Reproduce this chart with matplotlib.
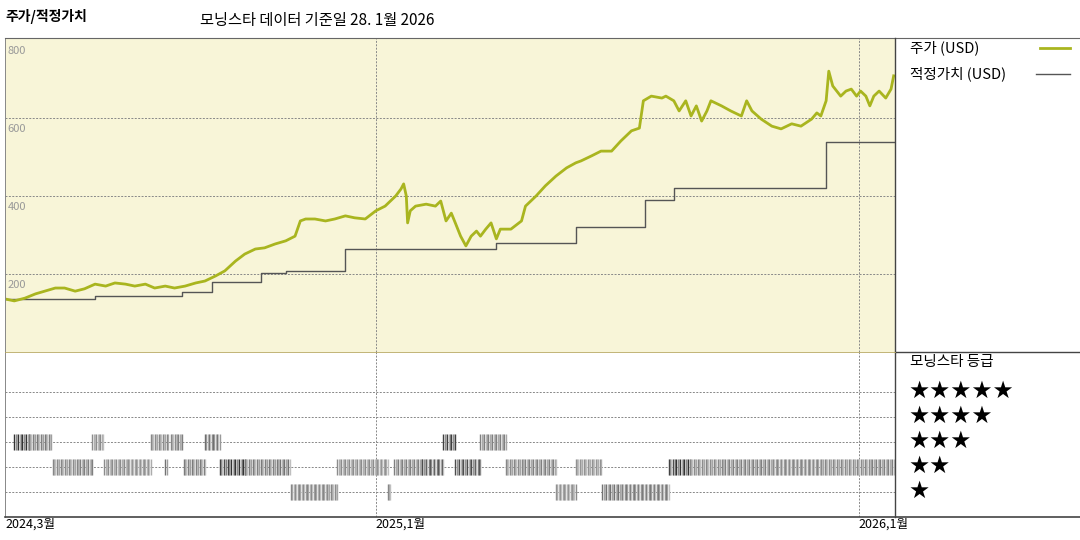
import matplotlib
matplotlib.use("Agg")
import matplotlib.pyplot as plt
from matplotlib.lines import Line2D
import pandas as pd

plt.rcParams['font.family'] = ['Noto Sans CJK KR', 'DejaVu Sans']

price_dates = ["2024-03-27","2024-04-03","2024-04-11","2024-04-19","2024-04-26","2024-05-04","2024-05-11","2024-05-19","2024-05-26","2024-06-03","2024-06-11","2024-06-18","2024-06-26","2024-07-03","2024-07-11","2024-07-18","2024-07-26","2024-08-02","2024-08-10","2024-08-18","2024-08-25","2024-09-02","2024-09-09","2024-09-17","2024-09-24","2024-10-02","2024-10-09","2024-10-17","2024-10-25","2024-11-01","2024-11-05","2024-11-09","2024-11-16","2024-11-24","2024-12-01","2024-12-09","2024-12-16","2024-12-24",
"2025-01-01","2025-01-08","2025-01-16","2025-01-20","2025-01-22","2025-01-24","2025-01-25","2025-01-27","2025-01-31","2025-02-08","2025-02-15","2025-02-19","2025-02-23","2025-02-27","2025-03-02","2025-03-06","2025-03-10","2025-03-14","2025-03-18","2025-03-21","2025-03-25","2025-03-29","2025-04-02","2025-04-05","2025-04-13","2025-04-21","2025-04-24","2025-05-02","2025-05-09","2025-05-17","2025-05-25","2025-06-01","2025-06-05","2025-06-13","2025-06-20","2025-06-28","2025-07-05","2025-07-13","2025-07-19","2025-07-22","2025-07-28","2025-08-05","2025-08-08","2025-08-14","2025-08-18","2025-08-23","2025-08-27","2025-08-31","2025-09-04","2025-09-08","2025-09-11","2025-09-19","2025-09-26","2025-10-04","2025-10-08","2025-10-12","2025-10-19","2025-10-27","2025-11-03","2025-11-11","2025-11-18","2025-11-26","2025-11-30","2025-12-03","2025-12-07","2025-12-09","2025-12-12","2025-12-15","2025-12-18","2025-12-22","2025-12-26","2025-12-30","2026-01-02","2026-01-06","2026-01-09","2026-01-12","2026-01-16","2026-01-21","2026-01-25","2026-01-27"]
price_values = [136,131,138,149,156,164,164,156,162,174,169,177,174,169,174,164,169,164,169,177,182,195,208,233,251,264,267,277,285,297,336,341,341,336,341,349,344,341,
362,374,400,418,431,400,331,362,374,379,374,387,336,356,331,297,272,297,310,297,315,331,290,315,315,336,374,400,426,451,472,485,490,503,515,515,541,567,574,644,656,651,656,644,618,644,605,631,592,618,644,631,618,605,644,618,597,579,572,585,579,597,613,605,644,720,682,669,656,669,674,656,669,656,631,656,669,651,674,708]

fv_dates = ["2024-03-27","2024-06-03","2024-08-08","2024-08-30","2024-10-06","2024-10-25","2024-12-09","2025-04-02","2025-06-01","2025-07-23","2025-08-14","2025-12-07","2026-01-27"]
fv_values = [136,144,154,179,203,208,264,279,321,390,420,538,538]

rating_start = ["2024-04-03","2024-04-14","2024-05-02","2024-06-01","2024-06-10","2024-07-15","2024-07-26","2024-07-30","2024-08-09","2024-08-25","2024-09-05","2024-09-24","2024-10-29","2024-12-03","2025-01-10","2025-01-15","2025-02-05","2025-02-21","2025-03-02","2025-03-21","2025-04-09","2025-05-17","2025-06-01","2025-06-21","2025-08-10","2025-08-26"]
rating_end   = ["2024-04-14","2024-05-01","2024-06-01","2024-06-09","2024-07-15","2024-07-28","2024-07-27","2024-08-08","2024-08-25","2024-09-05","2024-09-24","2024-10-28","2024-12-03","2025-01-10","2025-01-12","2025-02-05","2025-02-21","2025-03-02","2025-03-21","2025-04-09","2025-05-17","2025-06-01","2025-06-20","2025-08-10","2025-08-26","2026-01-27"]
rating_stars = [3,3,2,3,2,3,2,3,2,3,2,2,1,2,1,2,2,3,2,3,2,1,2,1,2,2]
rating_dark  = [1,0.5,0.4,0.3,0.3,0.4,0.5,0.4,0.5,0.6,1,0.5,0.4,0.3,0.4,0.4,0.8,0.9,0.8,0.4,0.4,0.3,0.3,0.5,1,0.4]

start = pd.Timestamp("2024-03-27"); end = pd.Timestamp("2026-01-28")

fig = plt.figure(figsize=(10.8, 5.4), dpi=100)
W, H = 1080, 540
ax1 = fig.add_axes([5/W, (H-352)/H, 890/W, 314/H])
ax2 = fig.add_axes([5/W, (H-517)/H, 890/W, 165/H])

grid_kw = dict(color='#888888', lw=0.7, ls=(0, (2, 1.5)))
ax1.set_facecolor('#f8f5d8')
for v in [200, 400, 600]:
    ax1.axhline(v, **grid_kw)
for d in ["2025-01-01", "2026-01-01"]:
    ax1.axvline(pd.Timestamp(d), **grid_kw)
    ax2.axvline(pd.Timestamp(d), **grid_kw)
ax1.step(pd.to_datetime(fv_dates), fv_values, where='post', color='#555555', lw=1.0)
ax1.plot(pd.to_datetime(price_dates), price_values, color='#a9b51f', lw=2.0)
ax1.set_xlim(start, end); ax1.set_ylim(0, 805)
for v in [0, 200, 400, 600, 800]:
    ax1.annotate(str(v), (0, v), xycoords=ax1.get_yaxis_transform(), xytext=(2, -4),
                 textcoords='offset points', va='top', ha='left', fontsize=8, color='#999999',
                 annotation_clip=False)
for ax in (ax1, ax2):
    ax.set_xticks([]); ax.set_yticks([])
    for s in ['top', 'right', 'bottom']:
        ax.spines[s].set_visible(False)
    ax.spines['left'].set_color('#888888'); ax.spines['left'].set_linewidth(0.7)

ax2.set_xlim(start, end); ax2.set_ylim(0, 6.6)
for r in [1, 2, 3, 4, 5]:
    ax2.axhline(r, **grid_kw)
for s, e, st, dk in zip(rating_start, rating_end, rating_stars, rating_dark):
    days = pd.date_range(s, e, freq='D')
    for i, d in enumerate(days):
        if i % 3 == 0:
            c = (0.2 + 0.5 * (1 - dk),) * 3
        else:
            c = (0.75 - 0.25 * dk * (i % 2),) * 3
        ax2.vlines(d, st - 0.33, st + 0.33, color=c, lw=1.0)

def fl(x0, y0, x1, y1, c='#444444', lw=1.0):
    fig.add_artist(Line2D([x0/W, x1/W], [1-y0/H, 1-y1/H], color=c, lw=lw))
fl(5, 38, 1080, 38, '#666666', 0.8)
fl(5, 517, 1080, 517, '#444444', 1.2)
fl(895, 38, 895, 517)
fl(895, 352, 1080, 352)
fl(5, 352, 895, 352, '#b8a860', 0.6)

fig.text(5/W, 1-17/H, "주가/적정가치", fontsize=10, fontweight='bold', va='center')
fig.text(200/W, 1-20/H, "모닝스타 데이터 기준일 28. 1월 2026", fontsize=11, va='center')
fig.text(910/W, 1-48/H, "주가 (USD)", fontsize=10.5, va='center')
fl(1040, 48, 1070, 48, '#a9b51f', 2.0)
fig.text(910/W, 1-74/H, "적정가치 (USD)", fontsize=10.5, va='center')
fl(1036, 74, 1070, 74, '#555555', 1.0)
fig.text(910/W, 1-362/H, "모닝스타 등급", fontsize=10.5, va='center')
for i, n in enumerate([5, 4, 3, 2, 1]):
    fig.text(908/W, 1-(391+25*i)/H, "★"*n, fontsize=17, va='center', family=['DejaVu Sans'])
for lab, xp in [("2024,3월", 5), ("2025,1월", 375), ("2026,1월", 858)]:
    fig.text(xp/W, 1-524/H, lab, fontsize=9, va='center')

fig.savefig("out.png", dpi=100)
